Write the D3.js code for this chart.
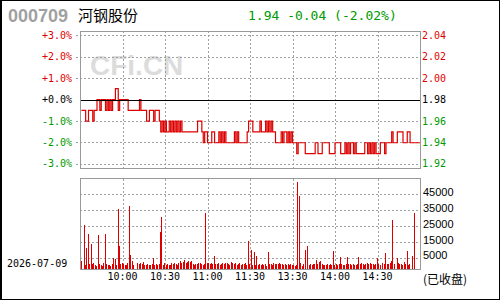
<!DOCTYPE html>
<html>
<head>
<meta charset="utf-8">
<script src="https://cdn.jsdelivr.net/npm/d3@7"></script>
<style>
  body { margin: 0; background: #fff; }
  svg { display: block; }
</style>
</head>
<body>
<script>
// stock header
const code = '000709';
const name = '河钢股份';
const quote = '1.94 -0.04 (-2.02%)';
const dateLabel = '2026-07-09';
const prevClose = 1.98;

// axis ticks
const pctTicks = [3, 2, 1, 0, -1, -2, -3];
const pctLabels = ['+3.0%', '+2.0%', '+1.0%', '+0.0%', '-1.0%', '-2.0%', '-3.0%'];
const priceLabels = ['2.04', '2.02', '2.00', '1.98', '1.96', '1.94', '1.92'];
const timeTicks = [30, 60, 90, 120, 150, 180, 210];
const timeLabels = ['10:00', '10:30', '11:00', '11:30', '13:30', '14:00', '14:30'];
const volTicks = [45000, 35000, 25000, 15000, 5000];

// minute prices, 9:31 .. 15:00
const prices = [
  1.97,1.97,1.97,1.96,1.96,1.97,1.97,1.97,1.96,1.97,
  1.97,1.98,1.98,1.97,1.98,1.98,1.98,1.97,1.98,1.97,
  1.98,1.97,1.98,1.98,1.99,1.99,1.97,1.98,1.98,1.98,
  1.98,1.98,1.98,1.97,1.97,1.97,1.97,1.97,1.97,1.97,
  1.97,1.98,1.97,1.97,1.97,1.97,1.96,1.96,1.97,1.97,
  1.97,1.96,1.97,1.97,1.97,1.96,1.95,1.96,1.95,1.96,
  1.95,1.95,1.96,1.95,1.96,1.95,1.96,1.95,1.96,1.95,
  1.96,1.95,1.95,1.95,1.95,1.95,1.95,1.95,1.95,1.95,
  1.95,1.95,1.96,1.96,1.96,1.95,1.94,1.95,1.95,1.94,
  1.94,1.94,1.95,1.95,1.94,1.94,1.94,1.95,1.94,1.95,
  1.94,1.95,1.94,1.94,1.94,1.94,1.94,1.94,1.95,1.94,
  1.95,1.94,1.94,1.94,1.94,1.94,1.94,1.95,1.96,1.96,
  1.96,1.95,1.95,1.95,1.95,1.95,1.96,1.95,1.95,1.95,
  1.96,1.95,1.96,1.95,1.96,1.95,1.95,1.94,1.94,1.94,
  1.94,1.95,1.94,1.95,1.95,1.94,1.95,1.94,1.95,1.94,
  1.94,1.94,1.93,1.94,1.94,1.94,1.94,1.94,1.93,1.93,
  1.93,1.93,1.93,1.93,1.93,1.94,1.94,1.93,1.93,1.93,
  1.94,1.94,1.94,1.94,1.94,1.93,1.93,1.93,1.93,1.94,
  1.94,1.94,1.94,1.93,1.93,1.93,1.94,1.93,1.94,1.93,
  1.94,1.94,1.93,1.94,1.93,1.93,1.93,1.93,1.93,1.93,
  1.94,1.94,1.93,1.94,1.93,1.94,1.93,1.94,1.93,1.93,
  1.93,1.94,1.94,1.94,1.93,1.94,1.94,1.94,1.94,1.95,
  1.94,1.94,1.94,1.95,1.95,1.95,1.95,1.94,1.94,1.94,
  1.95,1.95,1.94,1.94,1.94,1.94,1.94,1.94,1.94,1.94
];

// minute volumes
const volumes = [
  5300,0,27900,3000,13600,22200,3500,16000,3400,3800,3000,2500,21600,3200,3000,2400,4000,22200,3200,2900,
  3100,2400,3600,7000,6600,3000,37900,14700,3200,4000,3500,3000,2800,4000,39800,9100,5500,3000,0,0,
  3800,3400,4200,3200,4800,3100,2600,3500,3000,2800,3200,7400,2600,3500,2800,3300,23500,32900,3000,3800,
  2600,3400,2800,3000,4000,3500,3800,3600,3000,4200,5500,4200,4500,5800,4200,4600,5200,4800,5600,3600,
  3000,3600,3200,4200,3800,3400,3000,3600,35400,3800,4000,3600,3800,3500,8500,3600,3400,3800,3000,3600,
  4200,3400,3800,4000,3600,3000,4400,3800,3600,4200,3000,3400,4000,2600,3600,3200,3800,3000,17800,3200,
  12200,3000,10800,2600,8500,2800,3400,2600,3400,2800,3600,2400,10800,3200,3600,3000,4000,3200,3600,3400,
  3800,3200,3600,2800,3400,3000,3600,2600,3200,2800,3000,2400,3000,55000,46200,3800,2200,3400,12200,0,
  14700,3000,3400,2800,3200,3600,5800,3600,4800,5200,3400,2800,3000,2600,3400,3000,3600,2800,11600,3000,
  3600,2600,3400,8000,3200,3000,2800,3400,8000,3600,3200,2800,3400,3000,2600,3400,8000,3200,3800,3400,
  3000,3600,4000,3400,3800,3200,3600,3000,3400,7000,3600,3000,0,4200,3400,10500,3200,3600,4000,5200,
  31000,3400,0,7200,3800,3200,3600,3000,4400,3400,11600,3000,3600,0,8500,35600,0,0,0,0
];

const red = '#dd0000', green = '#009900', grid = '#a0a0a0', frame = '#999999';
const mono = '"DejaVu Sans Mono", monospace';

const svg = d3.select('body').append('svg')
  .attr('width', 500)
  .attr('height', 300);

svg.append('rect').attr('width', 500).attr('height', 300).attr('fill', '#fff');

const x = d3.scaleLinear().domain([0, 240]).range([80, 420]);
const yPct = d3.scaleLinear().domain([-3.2, 3.2]).range([168, 31]);
const yVol = d3.scaleLinear().domain([0, 57000]).range([269.5, 178.5]);
const px = v => Math.round(v) + 0.5;
const pct = p => (p - prevClose) / prevClose * 100;

// watermark
svg.append('text')
  .attr('x', 90).attr('y', 75)
  .attr('font-family', '"Liberation Sans", Arial, sans-serif')
  .attr('font-weight', 'bold')
  .attr('font-size', 28)
  .attr('fill', '#dcdcdc')
  .text('CFi.CN');

// price panel grid
const pg = svg.append('g').attr('shape-rendering', 'crispEdges');
pg.selectAll('.hgrid')
  .data(pctTicks.filter(t => t !== 0))
  .enter().append('line')
  .attr('x1', 76).attr('x2', 420)
  .attr('y1', d => px(yPct(d))).attr('y2', d => px(yPct(d)))
  .attr('stroke', grid).attr('stroke-dasharray', '2,2');
pg.selectAll('.vgrid')
  .data(timeTicks)
  .enter().append('line')
  .attr('x1', d => px(x(d))).attr('x2', d => px(x(d)))
  .attr('y1', 31).attr('y2', 168)
  .attr('stroke', grid).attr('stroke-dasharray', '2,2');

// price line
const line = d3.line()
  .x((d, i) => x(i + 1))
  .y(d => yPct(pct(d)))
  .curve(d3.curveStepAfter);
svg.append('path')
  .datum(prices)
  .attr('d', line)
  .attr('fill', 'none')
  .attr('stroke', red)
  .attr('stroke-width', 1.2);

// zero line on top
svg.append('line')
  .attr('x1', 80).attr('x2', 420)
  .attr('y1', px(yPct(0))).attr('y2', px(yPct(0)))
  .attr('stroke', '#000')
  .attr('shape-rendering', 'crispEdges');

svg.append('rect')
  .attr('x', 80.5).attr('y', 31.5).attr('width', 340).attr('height', 137)
  .attr('fill', 'none').attr('stroke', frame)
  .attr('shape-rendering', 'crispEdges');

const tickColor = t => t > 0 ? red : (t < 0 ? green : '#000');

svg.selectAll('.pctlab')
  .data(pctTicks)
  .enter().append('text')
  .attr('x', 72).attr('y', d => yPct(d))
  .attr('dy', '0.36em')
  .attr('text-anchor', 'end')
  .attr('font-family', mono).attr('font-size', 10)
  .attr('fill', tickColor)
  .text((d, i) => pctLabels[i]);

svg.selectAll('.pricelab')
  .data(pctTicks)
  .enter().append('text')
  .attr('x', 422).attr('y', d => yPct(d))
  .attr('dy', '0.36em')
  .attr('font-family', mono).attr('font-size', 10)
  .attr('fill', tickColor)
  .text((d, i) => priceLabels[i]);

// volume panel grid (labels sit a few px under their lines in the original)
const vg = svg.append('g').attr('shape-rendering', 'crispEdges');
vg.selectAll('.hgrid')
  .data(volTicks)
  .enter().append('line')
  .attr('x1', 80).attr('x2', 420)
  .attr('y1', d => px(yVol(d) - 4)).attr('y2', d => px(yVol(d) - 4))
  .attr('stroke', grid).attr('stroke-dasharray', '2,2');
vg.selectAll('.vgrid')
  .data(timeTicks)
  .enter().append('line')
  .attr('x1', d => px(x(d))).attr('x2', d => px(x(d)))
  .attr('y1', 178.5).attr('y2', 269.5)
  .attr('stroke', grid).attr('stroke-dasharray', '2,2');

svg.append('g')
  .selectAll('rect')
  .data(volumes)
  .enter().append('rect')
  .attr('x', (d, i) => Math.round(x(i + 0.5)))
  .attr('width', 1)
  .attr('y', d => yVol(d))
  .attr('height', d => yVol(0) - yVol(d))
  .attr('fill', red)
  .attr('shape-rendering', 'crispEdges');

svg.append('rect')
  .attr('x', 80.5).attr('y', 178.5).attr('width', 340).attr('height', 91)
  .attr('fill', 'none').attr('stroke', frame)
  .attr('shape-rendering', 'crispEdges');

svg.selectAll('.vollab')
  .data(volTicks)
  .enter().append('text')
  .attr('x', 423).attr('y', d => yVol(d) - 6)
  .attr('dy', '0.36em')
  .attr('font-family', '"Liberation Sans", Arial, sans-serif').attr('font-size', 11)
  .attr('fill', '#000')
  .text(d => d);

svg.selectAll('.timelab')
  .data(timeTicks)
  .enter().append('text')
  .attr('x', d => x(d)).attr('y', 280)
  .attr('text-anchor', 'middle')
  .attr('font-family', mono).attr('font-size', 10)
  .attr('fill', '#000')
  .text((d, i) => timeLabels[i]);

svg.append('text')
  .attr('x', 7).attr('y', 267)
  .attr('font-family', mono).attr('font-size', 10)
  .attr('fill', '#000')
  .text(dateLabel);

svg.append('text')
  .attr('x', 423).attr('y', 284)
  .attr('font-family', '"Noto Sans CJK SC", sans-serif').attr('font-size', 12)
  .attr('fill', '#000')
  .text('(已收盘)');

// header
svg.append('text')
  .attr('x', 8).attr('y', 22)
  .attr('font-family', '"Liberation Sans", Arial, sans-serif')
  .attr('font-weight', 'bold').attr('font-size', 18)
  .attr('fill', '#a0a0a0')
  .text(code);
svg.append('text')
  .attr('x', 78).attr('y', 21)
  .attr('font-family', '"Noto Sans CJK SC", sans-serif').attr('font-size', 15)
  .attr('fill', '#000')
  .text(name);
svg.append('text')
  .attr('x', 248).attr('y', 20)
  .attr('font-family', mono).attr('font-size', 13)
  .attr('fill', green)
  .text(quote);

// outer border
svg.append('rect')
  .attr('x', 0.5).attr('y', 0.5).attr('width', 499).attr('height', 299)
  .attr('fill', 'none').attr('stroke', '#000')
  .attr('shape-rendering', 'crispEdges');
svg.append('line')
  .attr('x1', 1.5).attr('x2', 1.5).attr('y1', 0).attr('y2', 300)
  .attr('stroke', '#000').attr('shape-rendering', 'crispEdges');
</script>
</body>
</html>
